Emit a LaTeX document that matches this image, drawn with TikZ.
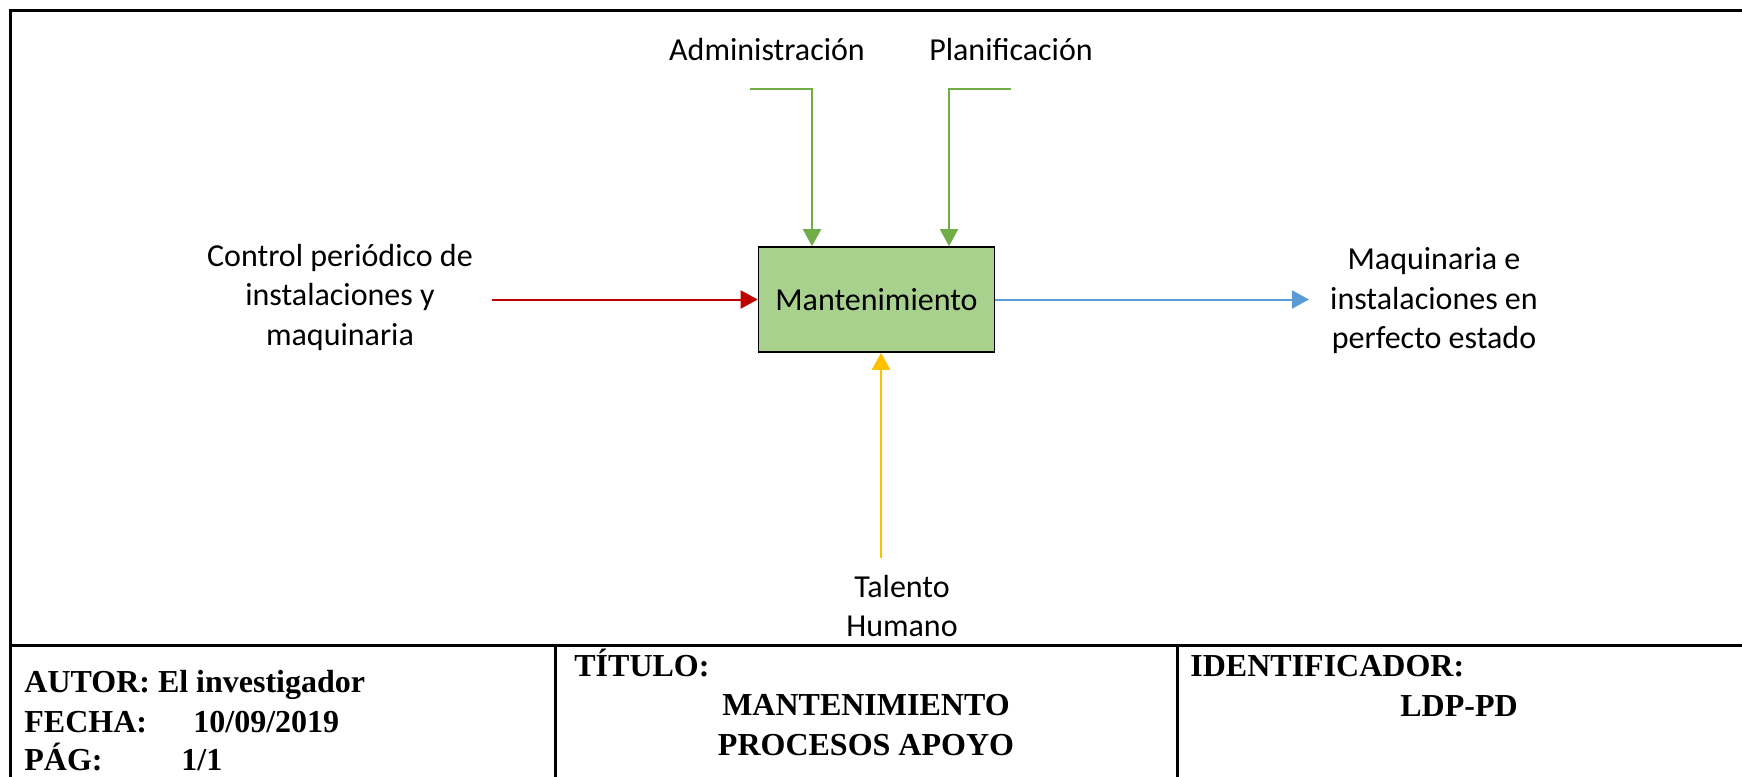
\documentclass[tikz,border=0pt]{standalone}
\usepackage{fontspec}
\setmainfont{Carlito}
\newfontfamily\tablefont{Liberation Serif}
\usepackage{tikz}
\usetikzlibrary{arrows.meta, positioning, calc}
\definecolor{IdefRed}{HTML}{C00000}
\definecolor{IdefGreen}{HTML}{70AD47}
\definecolor{IdefBlue}{HTML}{5B9BD5}
\definecolor{IdefGold}{HTML}{FFC000}
\definecolor{IdefFill}{HTML}{A9D18E}
\tikzset{
    % Node styles
    procbox/.style={
        rectangle,
        draw=black,
        fill=IdefFill,
        line width=0.8pt,
        minimum width=118pt,
        minimum height=52.5pt,
        text centered,
        font=\fontsize{16}{19.5}\selectfont
    },
    flowlabel/.style={
        align=center,
        inner sep=0pt,
        font=\fontsize{16}{19.75}\selectfont
    },
    tabletext/.style={
        anchor=base west,
        inner sep=0pt,
        font=\tablefont\bfseries\fontsize{16}{18.5}\selectfont
    },
    tablecenter/.style={
        anchor=base,
        inner sep=0pt,
        font=\tablefont\bfseries\fontsize{16}{18.5}\selectfont
    },
    % Arrow styles
    flowarrow/.style={
        -{Triangle[length=8.5pt,width=9pt]},
        line width=1pt
    },
    frameline/.style={
        draw=black,
        line width=1.5pt
    }
}
\begin{document}
\begin{tikzpicture}[x=0.5pt,y=-0.5pt]
    \useasboundingbox (0,0) rectangle (1742,777);

    % Process
    \node[procbox] (mant) at (876.5,299.5) {Mantenimiento};

    % Labels
    \node[flowlabel] (ctrl) at (340,297) {Control periódico de\\instalaciones y\\maquinaria};
    \node[flowlabel] (result) at (1434,301) {Maquinaria e\\instalaciones en\\perfecto estado};
    \node[flowlabel] (admin) at (767,50) {Administración};
    \node[flowlabel] (plan) at (1011,50) {Planificación};
    \node[flowlabel] (talento) at (902,606) {Talento\\Humano};

    % Connector ends
    \coordinate (ctrlin) at (492,299.5);
    \coordinate (resultout) at (1309,299.5);
    \coordinate (adminin) at (750,89);
    \coordinate (planin) at (1011,89);
    \coordinate (talentoin) at (881,558);

    % Arrows
    \draw[flowarrow,IdefRed] (ctrlin) -- (mant.west);
    \draw[flowarrow,IdefBlue] (mant.east) -- (resultout);
    \draw[flowarrow,IdefGreen] (adminin) -| ([xshift=-32.25pt]mant.north);
    \draw[flowarrow,IdefGreen] (planin) -| ([xshift=36.25pt]mant.north);
    \draw[flowarrow,IdefGold] (talentoin) -- (talentoin |- mant.south);

    % Frame
    \draw[frameline] (10,777) -- (10,10) -- (1742,10);
    \draw[frameline] (10,645) -- (1742,645);
    \draw[frameline] (555,645) -- (555,777);
    \draw[frameline] (1177,645) -- (1177,777);

    % Title block
    \node[tabletext] (autor) at (24,692) {AUTOR: El investigador};
    \node[tabletext] (fecha) at (24,732) {FECHA:};
    \node[tabletext] (fechaval) at (193,732) {10/09/2019};
    \node[tabletext] (pag) at (24,770) {PÁG:};
    \node[tabletext] (pagval) at (181,770) {1/1};
    \node[tabletext] (titulo) at (574,676) {TÍTULO:};
    \node[tablecenter] (tit1) at (866,715) {MANTENIMIENTO};
    \node[tablecenter] (tit2) at (866,755) {PROCESOS APOYO};
    \node[tabletext] (ident) at (1190,676) {IDENTIFICADOR:};
    \node[tablecenter] (identval) at (1459,716) {LDP-PD};
\end{tikzpicture}
\end{document}
